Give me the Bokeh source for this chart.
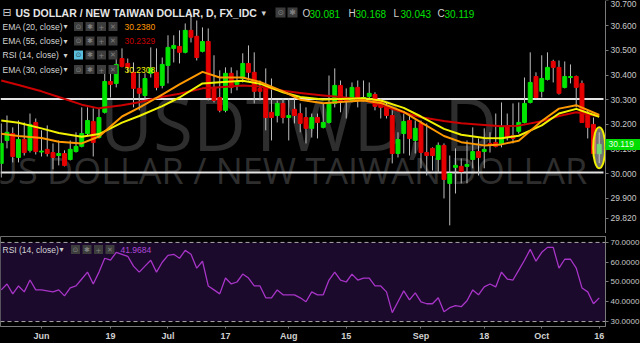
from bokeh.plotting import figure
from bokeh.models import (Range1d, FixedTicker, Label, BoxAnnotation, Span, PrintfTickFormatter,
                          ColumnDataSource, LinearAxis)
from bokeh.layouts import column
from bokeh.embed import file_html
from bokeh.resources import INLINE

# ---------------- data ----------------
opens = [30.042,30.135,30.163,30.066,30.139,30.095,30.208,30.088,30.099,30.086,
         30.074,30.082,30.058,30.090,30.111,30.163,30.212,30.147,30.249,30.374,
         30.366,30.467,30.447,30.411,30.346,30.317,30.407,30.411,30.358,30.439,
         30.508,30.516,30.492,30.581,30.557,30.496,30.536,30.350,30.309,30.257,
         30.407,30.362,30.386,30.447,30.411,30.346,30.350,30.249,30.236,30.285,
         30.228,30.261,30.244,30.228,30.184,30.228,30.188,30.208,30.285,30.358,
         30.309,30.297,30.350,30.297,30.313,30.321,30.297,30.273,30.236,30.082,
         30.163,30.216,30.135,30.204,30.086,30.103,30.058,30.115,29.961,30.026,
         30.030,30.030,30.058,30.090,30.090,30.123,30.127,30.119,30.192,30.155,
         30.172,30.208,30.289,30.394,30.334,30.382,30.455,30.431,30.350,30.390,
         30.394,30.366,30.244,30.200,30.081]
highs = [30.204,30.236,30.188,30.216,30.208,30.244,30.224,30.176,30.196,30.123,
         30.135,30.095,30.135,30.168,30.269,30.269,30.265,30.265,30.419,30.427,
         30.500,30.508,30.467,30.451,30.407,30.407,30.512,30.508,30.471,30.561,
         30.561,30.581,30.609,30.642,30.621,30.593,30.589,30.480,30.419,30.431,
         30.431,30.419,30.488,30.520,30.492,30.378,30.427,30.386,30.297,30.305,
         30.305,30.305,30.285,30.269,30.244,30.244,30.285,30.398,30.427,30.378,
         30.346,30.370,30.378,30.378,30.370,30.330,30.305,30.289,30.257,30.168,
         30.244,30.240,30.216,30.216,30.204,30.107,30.127,30.123,30.074,30.103,
         30.062,30.135,30.188,30.143,30.184,30.168,30.244,30.289,30.244,30.285,
         30.289,30.390,30.492,30.411,30.480,30.492,30.462,30.459,30.455,30.443,
         30.398,30.378,30.257,30.228,30.168]
lows = [29.985,30.103,30.046,30.046,30.074,30.086,30.078,30.070,30.070,30.018,
        30.034,30.030,30.054,30.086,30.107,30.155,30.070,30.143,30.244,30.309,
        30.350,30.431,30.411,30.269,30.257,30.297,30.390,30.338,30.346,30.366,
        30.451,30.447,30.488,30.532,30.459,30.492,30.297,30.289,30.249,30.249,
        30.326,30.338,30.370,30.378,30.285,30.297,30.176,30.135,30.208,30.204,
        30.135,30.204,30.168,30.123,30.147,30.143,30.184,30.204,30.269,30.249,
        30.224,30.289,30.269,30.293,30.297,30.257,30.224,30.224,30.042,30.066,
        30.082,30.074,30.082,30.022,29.993,30.013,30.005,29.900,29.791,29.920,
        29.961,29.961,30.022,29.993,30.022,30.086,30.107,30.107,30.135,30.123,
        30.163,30.204,30.285,30.305,30.309,30.378,30.370,30.321,30.346,30.366,
        30.269,30.208,30.143,30.074,30.043]
closes = [30.123,30.168,30.070,30.139,30.086,30.200,30.090,30.092,30.082,30.066,
          30.082,30.034,30.099,30.111,30.163,30.216,30.127,30.228,30.374,30.362,
          30.443,30.435,30.431,30.346,30.326,30.386,30.427,30.350,30.443,30.512,
          30.520,30.492,30.581,30.553,30.471,30.536,30.309,30.297,30.257,30.407,
          30.350,30.374,30.447,30.411,30.334,30.334,30.228,30.228,30.285,30.228,
          30.236,30.236,30.204,30.184,30.228,30.208,30.208,30.289,30.358,30.297,
          30.297,30.350,30.297,30.309,30.326,30.273,30.269,30.236,30.082,30.139,
          30.212,30.143,30.184,30.086,30.074,30.074,30.115,29.977,30.001,30.034,
          30.009,30.038,30.090,30.066,30.099,30.119,30.111,30.192,30.147,30.143,
          30.208,30.285,30.370,30.309,30.386,30.431,30.431,30.326,30.394,30.394,
          30.350,30.208,30.188,30.082,30.119]
rsi = [46,49,44,48,45,51,46,46,45.5,45,46,43,47,48,51.5,55,49,55,62,61,
       65,64,63,58,55,58,61,55,60,63.5,64,62,66,64,57,60.5,48,46,44,52,
       49,50,54,52,48,48,42,42,46,43.5,43.5,43.5,42,40,45,43.5,43.5,51,55,51,
       50,54,51,52,52,48,48,45,34.5,40,45.5,41,44.5,40,39,39,42,35,37,38,
       37.5,40.5,46,43.5,47.5,49,47.5,55,51.5,51,56,61,66.5,60.5,65,67.5,67.5,57,61.5,61.5,
       57,47,45,39,41.9684]

ema_idx = [0,3,7,10,14,17,21,24,28,31,35,38,42,45,49,52,56,59,63,66,70,73,77,80,84,87,90,94,97,100,104]
ema20 = [30.162,30.153,30.145,30.130,30.123,30.151,30.232,30.268,30.321,30.362,30.413,30.390,30.390,30.372,30.334,30.300,
         30.286,30.291,30.297,30.287,30.251,30.208,30.153,30.128,30.115,30.119,30.134,30.214,30.264,30.278,30.2380]
ema55 = [30.378,30.360,30.334,30.311,30.280,30.265,30.278,30.290,30.312,30.324,30.346,30.351,30.358,30.354,30.336,30.327,
         30.317,30.311,30.300,30.277,30.248,30.229,30.214,30.205,30.198,30.193,30.195,30.213,30.234,30.249,30.2329]
ema30 = [30.216,30.207,30.184,30.165,30.150,30.161,30.207,30.234,30.274,30.309,30.366,30.371,30.377,30.365,30.330,30.311,
         30.301,30.303,30.306,30.297,30.267,30.232,30.182,30.158,30.145,30.144,30.154,30.196,30.244,30.263,30.2308]

levels = [30.303, 30.005]
price_ticks = [29.82, 29.9, 30.0, 30.1, 30.2, 30.3, 30.4, 30.5, 30.6, 30.7]
rsi_ticks = [30, 40, 50, 60, 70]
date_ticks = [7, 19, 29, 39, 50, 60, 73, 84, 94, 104]
date_labels = ["Jun", "19", "Jul", "17", "Aug", "15", "Sep", "18", "Oct", "16"]

# ---------------- layout constants ----------------
FW, FH, RH = 605, 233, 90      # chart-area width (up to the price scale), pane heights
W = 640
XR = (-0.13, 105.09)           # x range over the 605 px chart area
YR = (29.758, 30.702)
RR = (27.5, 73.0)
GREEN, RED = "#00e600", "#e60000"
FONT = "Liberation Sans"

def X(px):
    return XR[0] + px * (XR[1] - XR[0]) / FW

def Ym(py):
    return YR[1] - py * (YR[1] - YR[0]) / FH

def Yr(py):  # py measured from top of RSI frame
    return RR[1] - py * (RR[1] - RR[0]) / RH

def txt(fig, x, y, text, color, size, bold=False, align="left", font=FONT, baseline="middle", level="overlay", **kw):
    fig.add_layout(Label(x=x, y=y, text=text, text_color=color, text_font=font,
                         text_font_size=f"{size}px", text_font_style="bold" if bold else "normal",
                         text_align=align, text_baseline=baseline, level=level, **kw))

# ---------------- main price pane (frame spans the full width; price scale pinned at x=605px) ----------------
p = figure(frame_width=W, frame_height=FH, x_range=Range1d(XR[0], X(W)), y_range=Range1d(*YR),
           output_backend="svg", toolbar_location=None, y_axis_location=None, x_axis_location=None,
           background_fill_color="#000000", border_fill_color="#000000",
           min_border_left=0, min_border_top=0, min_border_bottom=0, min_border_right=0)
p.grid.visible = False
p.outline_line_color = None

ya = LinearAxis(fixed_location=X(FW), ticker=FixedTicker(ticks=price_ticks),
                formatter=PrintfTickFormatter(format="%.3f"),
                axis_line_color="#7a7a7a", major_tick_line_color="#7a7a7a",
                major_tick_out=3, major_tick_in=0, minor_tick_line_color=None,
                major_label_text_color="#c8c8c8", major_label_text_font=FONT,
                major_label_text_font_size="8.5px", major_label_standoff=2)
p.add_layout(ya, "right")

# watermark
txt(p, X(298), Ym(122), "USDTWD, D", "#2e2e2e", 73, align="center", font="Open Sans", baseline="alphabetic", level="underlay")
txt(p, X(289), Ym(170), "US DOLLAR / NEW TAIWAN DOLLAR", "#2e2e2e", 36, align="center", font="Open Sans", baseline="alphabetic", level="underlay")

# horizontal levels (across the chart area)
p.segment(x0=[X(0)] * len(levels), x1=[X(603)] * len(levels), y0=levels, y1=levels,
          line_color="#e4e4e4", line_width=2)

# candles
idx = list(range(len(closes)))
up = [c >= o for o, c in zip(opens, closes)]
src = ColumnDataSource(dict(
    x=idx, o=opens, h=highs, l=lows, c=closes,
    top=[max(o, c) for o, c in zip(opens, closes)],
    bot=[min(o, c) for o, c in zip(opens, closes)],
    col=[GREEN if u else RED for u in up]))
p.segment(x0="x", y0="l", x1="x", y1="h", source=src, line_color="#bdbdbd", line_width=1)
p.vbar(x="x", width=0.68, top="top", bottom="bot", source=src, fill_color="col", line_color="col", line_width=1)

# EMAs
p.line(ema_idx, ema55, line_color="#cc0000", line_width=2, line_join="round")
p.line(ema_idx, ema30, line_color="#f2f200", line_width=2, line_join="round")
p.line(ema_idx, ema20, line_color="#ff9900", line_width=2, line_join="round")

# highlight ellipse around last candle
last = idx[-1]
p.ellipse(x=[last], y=[(highs[-1] + lows[-1]) / 2], width=2.1, height=(highs[-1] - lows[-1]) * 1.33,
          fill_color="#cfcfcf", fill_alpha=0.55, line_color="#f0f000", line_width=2)

# last-price tag on the price scale
half = 5.5 * (YR[1] - YR[0]) / FH
p.add_layout(BoxAnnotation(left=X(FW), right=X(W), bottom=closes[-1] - half, top=closes[-1] + half,
                           fill_color="#00dd00", fill_alpha=1.0, line_color=None, level="annotation"))
txt(p, X(608), closes[-1], f"{closes[-1]:.3f}", "#eaffea", 8.5, level="annotation")

# legend / header
txt(p, X(2), Ym(12), "\u229f", "#cfcfcf", 11, font="DejaVu Sans")
txt(p, X(15), Ym(12.5), "US DOLLAR / NEW TAIWAN DOLLAR, D, FX_IDC", "#e6e6e6", 10.5, bold=True)
txt(p, X(261), Ym(12), "\u25be", "#cfcfcf", 9, font="DejaVu Sans")
icon_cols = "#3c3c3c"
p.rect(x=[X(280), X(292)], y=[Ym(12)] * 2, width=10, height=10, width_units="screen", height_units="screen",
       fill_color=icon_cols, line_color=None)
txt(p, X(280), Ym(12), "\u2299", "#808080", 8, align="center", font="DejaVu Sans")
txt(p, X(292), Ym(12), "\u2731", "#808080", 8, align="center", font="DejaVu Sans")
ohlc = [("O", opens[-1], 302), ("H", highs[-1], 348), ("L", lows[-1], 393), ("C", closes[-1], 437)]
for letter, val, px in ohlc:
    txt(p, X(px), Ym(13), letter, "#cfcfcf", 10)
    txt(p, X(px + 7), Ym(13), f"{val:.3f}", "#00e000", 10)

rows = [("EMA (20, close)", f"{ema20[-1]:.4f}", "#ff9900", 26),
        ("EMA (55, close)", f"{ema55[-1]:.4f}", "#c80000", 40.5),
        ("RSI (14, close)", None, None, 54.5),
        ("EMA (30, close)", f"{ema30[-1]:.4f}", "#f0f000", 69)]
glyphs = ["\u2299", "\u2731", "+", "\u2715"]
for label, val, col, py in rows:
    txt(p, X(2), Ym(py), label, "#d4d4d4", 8.5)
    txt(p, X(63), Ym(py), "\u25be", "#cfcfcf", 8, font="DejaVu Sans")
    for k, gx in enumerate([78, 89.5, 101, 112.5]):
        fc = "#5bc0de" if (val is None and k == 0) else icon_cols
        p.rect(x=[X(gx)], y=[Ym(py)], width=9, height=9, width_units="screen", height_units="screen",
               fill_color=fc, line_color=None)
        txt(p, X(gx), Ym(py), glyphs[k], "#2a4a5a" if (val is None and k == 0) else "#808080", 7,
            align="center", font="DejaVu Sans")
    if val is not None:
        txt(p, X(124), Ym(py), val, col, 8.5)

# ---------------- RSI pane ----------------
r = figure(frame_width=FW, frame_height=RH, x_range=Range1d(*XR), y_range=Range1d(*RR),
           output_backend="svg", toolbar_location=None, y_axis_location="right",
           background_fill_color="#000000", border_fill_color="#000000",
           min_border_left=0, min_border_top=3, min_border_bottom=0, min_border_right=35)
r.grid.visible = False
r.outline_line_color = "#6e6e6e"
r.add_layout(BoxAnnotation(bottom=30, top=70, fill_color="#1b0a2c", fill_alpha=1.0, line_color=None, level="underlay"))
for lv in (70, 30):
    r.add_layout(Span(location=lv, dimension="width", line_color="#a8a8a8", line_width=1, line_dash="4 3"))
r.line(idx, rsi, line_color="#a834c8", line_width=1.3)

ry = r.yaxis[0]
ry.ticker = FixedTicker(ticks=rsi_ticks)
ry.formatter = PrintfTickFormatter(format="%.4f")
ry.axis_line_color = "#7a7a7a"
ry.major_tick_line_color = "#7a7a7a"
ry.major_tick_out = 3
ry.major_tick_in = 0
ry.minor_tick_line_color = None
ry.major_label_text_color = "#c8c8c8"
ry.major_label_text_font = FONT
ry.major_label_text_font_size = "8px"
ry.major_label_standoff = 2

rx = r.xaxis[0]
rx.ticker = FixedTicker(ticks=date_ticks)
rx.major_label_overrides = {t: l for t, l in zip(date_ticks, date_labels)}
rx.axis_line_color = "#7a7a7a"
rx.major_tick_line_color = "#7a7a7a"
rx.major_tick_out = 2
rx.major_tick_in = 0
rx.minor_tick_line_color = None
rx.major_label_text_color = "#d0d0d0"
rx.major_label_text_font = FONT
rx.major_label_text_font_size = "9px"
rx.major_label_text_font_style = "bold"
rx.major_label_standoff = 2

txt(r, X(2), Yr(13), "RSI (14, close)", "#d4d4d4", 8.5)
txt(r, X(59), Yr(13), "\u25be", "#cfcfcf", 8, font="DejaVu Sans")
for k, gx in enumerate([75, 86.5, 98, 109.5]):
    r.rect(x=[X(gx)], y=[Yr(13)], width=9, height=9, width_units="screen", height_units="screen",
           fill_color=icon_cols, line_color=None)
    txt(r, X(gx), Yr(13), glyphs[k], "#808080", 7, align="center", font="DejaVu Sans")
txt(r, X(120), Yr(13), f"{rsi[-1]:.4f}", "#b048d8", 8.5)

layout = column(p, r, spacing=0, background="#000000")
open("out.html", "w").write(file_html(layout, INLINE))
